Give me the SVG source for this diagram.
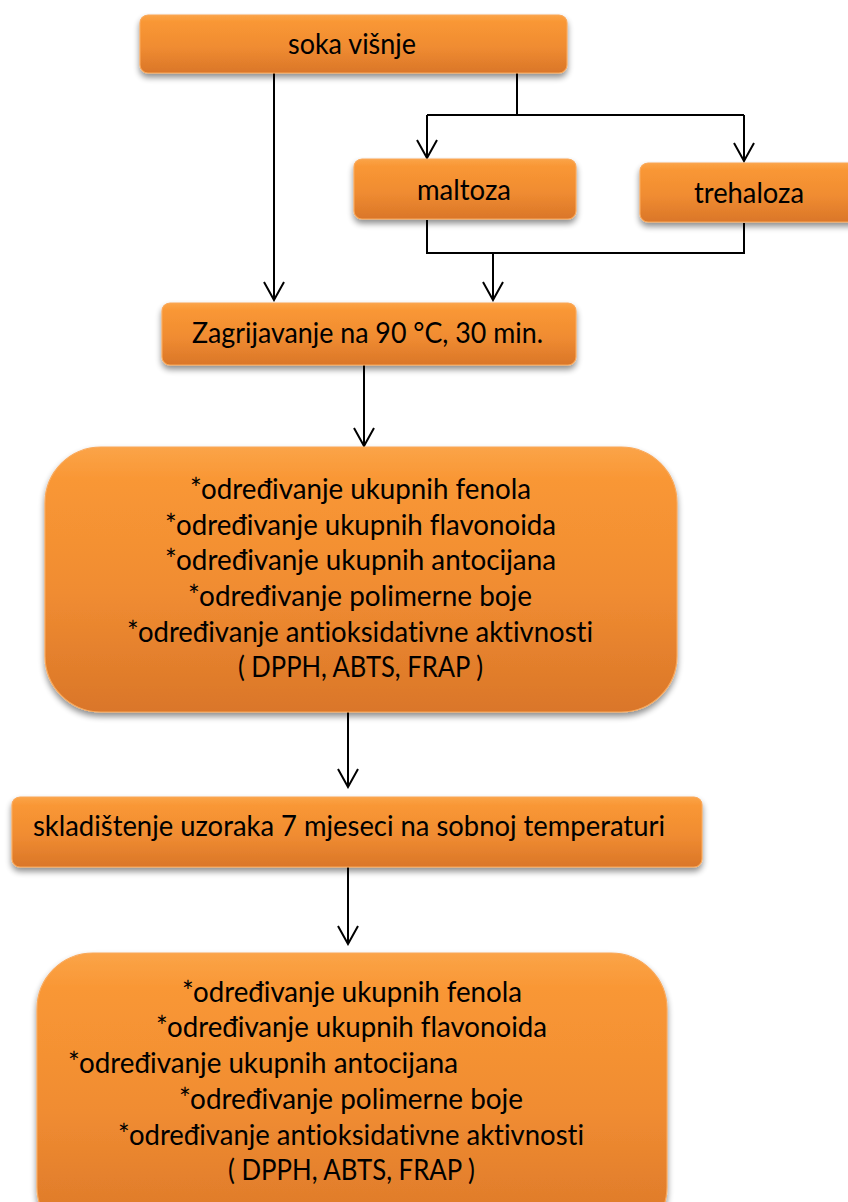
<svg xmlns="http://www.w3.org/2000/svg" width="848" height="1202" viewBox="0 0 848 1202">
<style>
.box{fill:url(#og);stroke:#F9A85A;stroke-width:1.2;filter:url(#sh)}
.t{font-family:Lato,"Open Sans","Liberation Sans",sans-serif;font-size:28px;fill:#000;font-variant-ligatures:none}
.c{fill:none;stroke:#000;stroke-width:2}
.a{fill:none;stroke:#000;stroke-width:2;marker-end:url(#arr)}
</style>
<defs>
<linearGradient id="og" x1="0" y1="0" x2="0" y2="1">
<stop offset="0" stop-color="#FBA448"/>
<stop offset="0.12" stop-color="#F99735"/>
<stop offset="0.55" stop-color="#F08C31"/>
<stop offset="1" stop-color="#DA7629"/>
</linearGradient>
<filter id="sh" x="-10%" y="-10%" width="120%" height="130%">
<feGaussianBlur in="SourceAlpha" stdDeviation="3"/>
<feOffset dx="0" dy="4" result="b"/>
<feComponentTransfer><feFuncA type="linear" slope="0.45"/></feComponentTransfer>
<feMerge><feMergeNode/><feMergeNode in="SourceGraphic"/></feMerge>
</filter>
<marker id="arr" viewBox="-20 -11 22 22" refX="0" refY="0" markerWidth="22" markerHeight="22" markerUnits="userSpaceOnUse" orient="auto">
<path d="M-18,-10 L0,0 L-18,10" fill="none" stroke="#000" stroke-width="2"/>
</marker>
</defs>

<g id="connectors">
<path class="a" d="M274,73 V300"/>
<path class="c" d="M517,73 V115"/>
<path class="c" d="M427,115 H744"/>
<path class="a" d="M427,115 V158"/>
<path class="a" d="M744,115 V161"/>
<path class="c" d="M427,220 V253 H744 V223"/>
<path class="a" d="M493,253 V300"/>
<path class="a" d="M364,365 V446"/>
<path class="a" d="M348,712 V787"/>
<path class="a" d="M348,867 V944"/>
</g>

<g id="soka">
<rect class="box" x="140" y="15" width="427" height="58" rx="8"/>
<text class="t" x="288" y="54" textLength="128" lengthAdjust="spacingAndGlyphs">soka višnje</text>
</g>

<g id="maltoza">
<rect class="box" x="354" y="159" width="222" height="60" rx="8"/>
<text class="t" x="417" y="200" textLength="94" lengthAdjust="spacingAndGlyphs">maltoza</text>
</g>

<g id="trehaloza">
<rect class="box" x="640" y="163" width="240" height="59" rx="8"/>
<text class="t" x="694" y="203" textLength="110" lengthAdjust="spacingAndGlyphs">trehaloza</text>
</g>

<g id="zagrijavanje">
<rect class="box" x="162" y="303" width="414" height="62" rx="8"/>
<text class="t" x="192" y="343" textLength="351" lengthAdjust="spacingAndGlyphs">Zagrijavanje na 90 °C, 30 min.</text>
</g>

<g id="analiza1">
<rect class="box" x="45" y="447" width="632" height="265" rx="56"/>
<text class="t" x="190" y="499" textLength="341" lengthAdjust="spacingAndGlyphs">*određivanje ukupnih fenola</text>
<text class="t" x="165" y="535" textLength="391" lengthAdjust="spacingAndGlyphs">*određivanje ukupnih flavonoida</text>
<text class="t" x="165" y="570" textLength="391" lengthAdjust="spacingAndGlyphs">*određivanje ukupnih antocijana</text>
<text class="t" x="188" y="606" textLength="344" lengthAdjust="spacingAndGlyphs">*određivanje polimerne boje</text>
<text class="t" x="127" y="642" textLength="466" lengthAdjust="spacingAndGlyphs">*određivanje antioksidativne aktivnosti</text>
<text class="t" x="238" y="677" textLength="245" lengthAdjust="spacingAndGlyphs">( DPPH, ABTS, FRAP )</text>
</g>

<g id="skladistenje">
<rect class="box" x="12" y="797" width="690" height="70" rx="8"/>
<text class="t" x="33" y="836" textLength="632" lengthAdjust="spacingAndGlyphs">skladištenje uzoraka 7 mjeseci na sobnoj temperaturi</text>
</g>

<g id="analiza2">
<rect class="box" x="37" y="953" width="630" height="290" rx="56"/>
<text class="t" x="182" y="1002" textLength="340" lengthAdjust="spacingAndGlyphs">*određivanje ukupnih fenola</text>
<text class="t" x="156" y="1037" textLength="391" lengthAdjust="spacingAndGlyphs">*određivanje ukupnih flavonoida</text>
<text class="t" x="68" y="1073" textLength="390" lengthAdjust="spacingAndGlyphs">*određivanje ukupnih antocijana</text>
<text class="t" x="179" y="1109" textLength="344" lengthAdjust="spacingAndGlyphs">*određivanje polimerne boje</text>
<text class="t" x="118" y="1145" textLength="466" lengthAdjust="spacingAndGlyphs">*određivanje antioksidativne aktivnosti</text>
<text class="t" x="228" y="1180" textLength="247" lengthAdjust="spacingAndGlyphs">( DPPH, ABTS, FRAP )</text>
</g>
</svg>
